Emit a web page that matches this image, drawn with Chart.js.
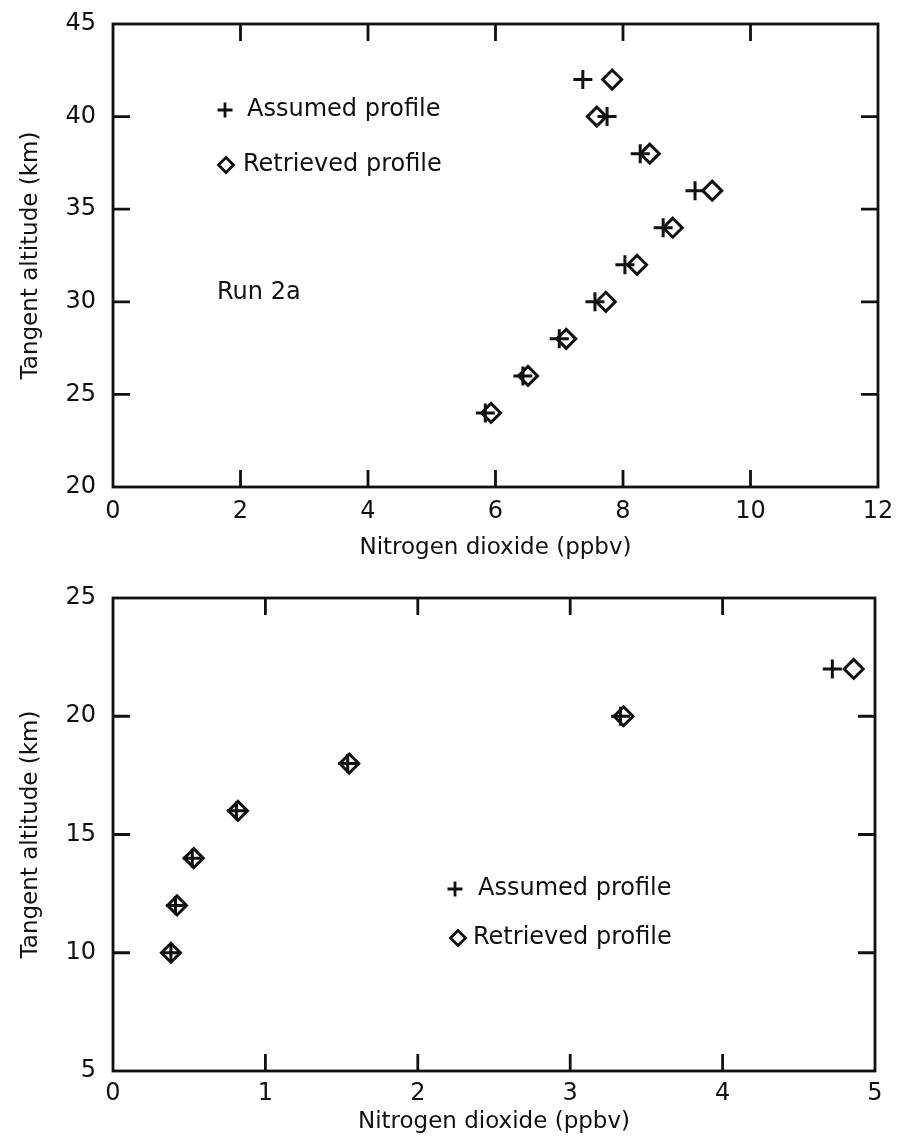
<!DOCTYPE html>
<html>
<head>
<meta charset="UTF-8">
<title>Nitrogen dioxide profiles</title>
<script src="https://cdn.jsdelivr.net/npm/chart.js"></script>
<style>
  body { margin: 0; background: #fff; }
  #wrap { position: relative; width: 900px; height: 1141px; }
  canvas { position: absolute; left: 0; }
</style>
</head>
<body>
<div id="wrap">
  <canvas id="upper" width="900" height="570" style="top:0"></canvas>
  <canvas id="lower" width="900" height="571" style="top:570px"></canvas>
</div>
<script>
// Run 2a: tangent altitudes (km) and NO2 (ppbv)
const runAltitudes = [42, 40, 38, 36, 34, 32, 30, 28, 26, 24];
const runAssumed   = [7.37, 7.75, 8.27, 9.13, 8.63, 8.03, 7.56, 7.00, 6.43, 5.84];
const runRetrieved = [7.83, 7.59, 8.42, 9.40, 8.78, 8.22, 7.73, 7.11, 6.51, 5.93];

// lower altitudes
const lowAltitudes = [22, 20, 18, 16, 14, 12, 10];
const lowAssumed   = [4.72, 3.33, 1.54, 0.81, 0.52, 0.41, 0.38];
const lowRetrieved = [4.86, 3.35, 1.55, 0.82, 0.53, 0.42, 0.38];

const upperXTicks = [0, 2, 4, 6, 8, 10, 12];
const upperYTicks = [20, 25, 30, 35, 40, 45];
const lowerXTicks = [0, 1, 2, 3, 4, 5];
const lowerYTicks = [5, 10, 15, 20, 25];

const INK = '#111';
const FONT = "'DejaVu Sans', sans-serif";

function pairs(xs, ys) {
  return xs.map((v, i) => ({ x: v, y: ys[i] }));
}

function cross(ctx, x, y, r) {
  ctx.beginPath();
  ctx.moveTo(x - r, y); ctx.lineTo(x + r, y);
  ctx.moveTo(x, y - r); ctx.lineTo(x, y + r);
  ctx.stroke();
}

function diamond(ctx, x, y, r) {
  ctx.beginPath();
  ctx.moveTo(x, y - r); ctx.lineTo(x + r, y);
  ctx.lineTo(x, y + r); ctx.lineTo(x - r, y);
  ctx.closePath();
  ctx.stroke();
}

// box around the plot with inward ticks on all four sides
const framePlugin = {
  id: 'frame',
  beforeDatasetsDraw(chart, args, opts) {
    const { ctx, chartArea: a, scales: { x, y } } = chart;
    const len = opts.tickLen || 16;
    ctx.save();
    ctx.strokeStyle = INK;
    ctx.lineWidth = 2.8;
    ctx.strokeRect(a.left, a.top, a.right - a.left, a.bottom - a.top);
    ctx.beginPath();
    x.ticks.forEach(t => {
      const p = x.getPixelForValue(t.value);
      if (p <= a.left + 1 || p >= a.right - 1) return;
      ctx.moveTo(p, a.bottom); ctx.lineTo(p, a.bottom - len);
      ctx.moveTo(p, a.top); ctx.lineTo(p, a.top + len);
    });
    y.ticks.forEach(t => {
      const p = y.getPixelForValue(t.value);
      if (p <= a.top + 1 || p >= a.bottom - 1) return;
      ctx.moveTo(a.left, p); ctx.lineTo(a.left + len, p);
      ctx.moveTo(a.right, p); ctx.lineTo(a.right - len, p);
    });
    ctx.stroke();
    ctx.restore();
  }
};

// key and run label written inside the plot
const notesPlugin = {
  id: 'notes',
  afterDatasetsDraw(chart, args, opts) {
    const { ctx, chartArea: a } = chart;
    ctx.save();
    ctx.strokeStyle = INK;
    ctx.fillStyle = INK;
    ctx.lineWidth = 2.8;
    ctx.font = '24px ' + FONT;
    ctx.textBaseline = 'middle';
    (opts.items || []).forEach(n => {
      const x = a.left + n.dx, y = a.top + n.dy;
      if (n.mark === 'cross') cross(ctx, x, y, 7.5);
      if (n.mark === 'diamond') diamond(ctx, x, y, 7.5);
      ctx.fillText(n.text, x + n.gap, y);
    });
    ctx.restore();
  }
};

function makeChart(id, cfg) {
  const datasets = [
    {
      label: 'Assumed profile',
      data: pairs(cfg.assumed, cfg.alt),
      pointStyle: 'cross',
      pointRadius: 9.5,
      pointBorderWidth: 3,
      borderColor: INK,
      backgroundColor: INK,
      showLine: false
    },
    {
      label: 'Retrieved profile',
      data: pairs(cfg.retrieved, cfg.alt),
      pointStyle: 'rectRot',
      pointRadius: 9.5,
      pointBorderWidth: 3,
      borderColor: INK,
      backgroundColor: 'rgba(255,255,255,0)',
      showLine: false
    }
  ];
  const tickFont = { family: FONT, size: 24 };
  const titleFont = { family: FONT, size: 23 };
  return new Chart(document.getElementById(id), {
    type: 'scatter',
    data: { datasets },
    plugins: [framePlugin, notesPlugin],
    options: {
      responsive: false,
      animation: false,
      events: [],
      layout: { padding: cfg.padding },
      plugins: {
        legend: { display: false },
        tooltip: { enabled: false },
        notes: { items: cfg.notes },
        frame: { tickLen: 17 }
      },
      scales: {
        x: {
          type: 'linear',
          min: cfg.xTicks[0],
          max: cfg.xTicks[cfg.xTicks.length - 1],
          afterBuildTicks: s => { s.ticks = cfg.xTicks.map(v => ({ value: v })); },
          afterFit: s => { s.height = cfg.xHeight; },
          grid: { display: false },
          border: { display: false },
          ticks: { color: INK, font: tickFont, padding: cfg.xTickPad, maxRotation: 0 },
          title: {
            display: true,
            text: 'Nitrogen dioxide (ppbv)',
            color: INK,
            font: titleFont,
            padding: { top: 0, bottom: cfg.xTitlePad }
          }
        },
        y: {
          type: 'linear',
          min: cfg.yTicks[0],
          max: cfg.yTicks[cfg.yTicks.length - 1],
          afterBuildTicks: s => { s.ticks = cfg.yTicks.map(v => ({ value: v })); },
          afterFit: s => { s.width = 113; },
          grid: { display: false },
          border: { display: false },
          ticks: { color: INK, font: tickFont, padding: 9 },
          title: {
            display: true,
            text: 'Tangent altitude (km)',
            color: INK,
            font: titleFont,
            padding: { top: 17, bottom: 0 }
          }
        }
      }
    }
  });
}

makeChart('upper', {
  alt: runAltitudes,
  assumed: runAssumed,
  retrieved: runRetrieved,
  xTicks: upperXTicks,
  yTicks: upperYTicks,
  padding: { top: 24, right: 22, bottom: 0, left: 0 },
  xHeight: 83,
  xTickPad: 2,
  xTitlePad: 8,
  notes: [
    { mark: 'cross', dx: 112, dy: 86, gap: 22, text: 'Assumed profile' },
    { mark: 'diamond', dx: 113, dy: 141, gap: 17, text: 'Retrieved profile' },
    { mark: null, dx: 104, dy: 269, gap: 0, text: 'Run 2a' }
  ]
});

makeChart('lower', {
  alt: lowAltitudes,
  assumed: lowAssumed,
  retrieved: lowRetrieved,
  xTicks: lowerXTicks,
  yTicks: lowerYTicks,
  padding: { top: 28, right: 25, bottom: 0, left: 0 },
  xHeight: 70,
  xTickPad: 0,
  xTitlePad: 5,
  notes: [
    { mark: 'cross', dx: 342, dy: 291, gap: 23, text: 'Assumed profile' },
    { mark: 'diamond', dx: 345, dy: 340, gap: 15, text: 'Retrieved profile' }
  ]
});
</script>
</body>
</html>
